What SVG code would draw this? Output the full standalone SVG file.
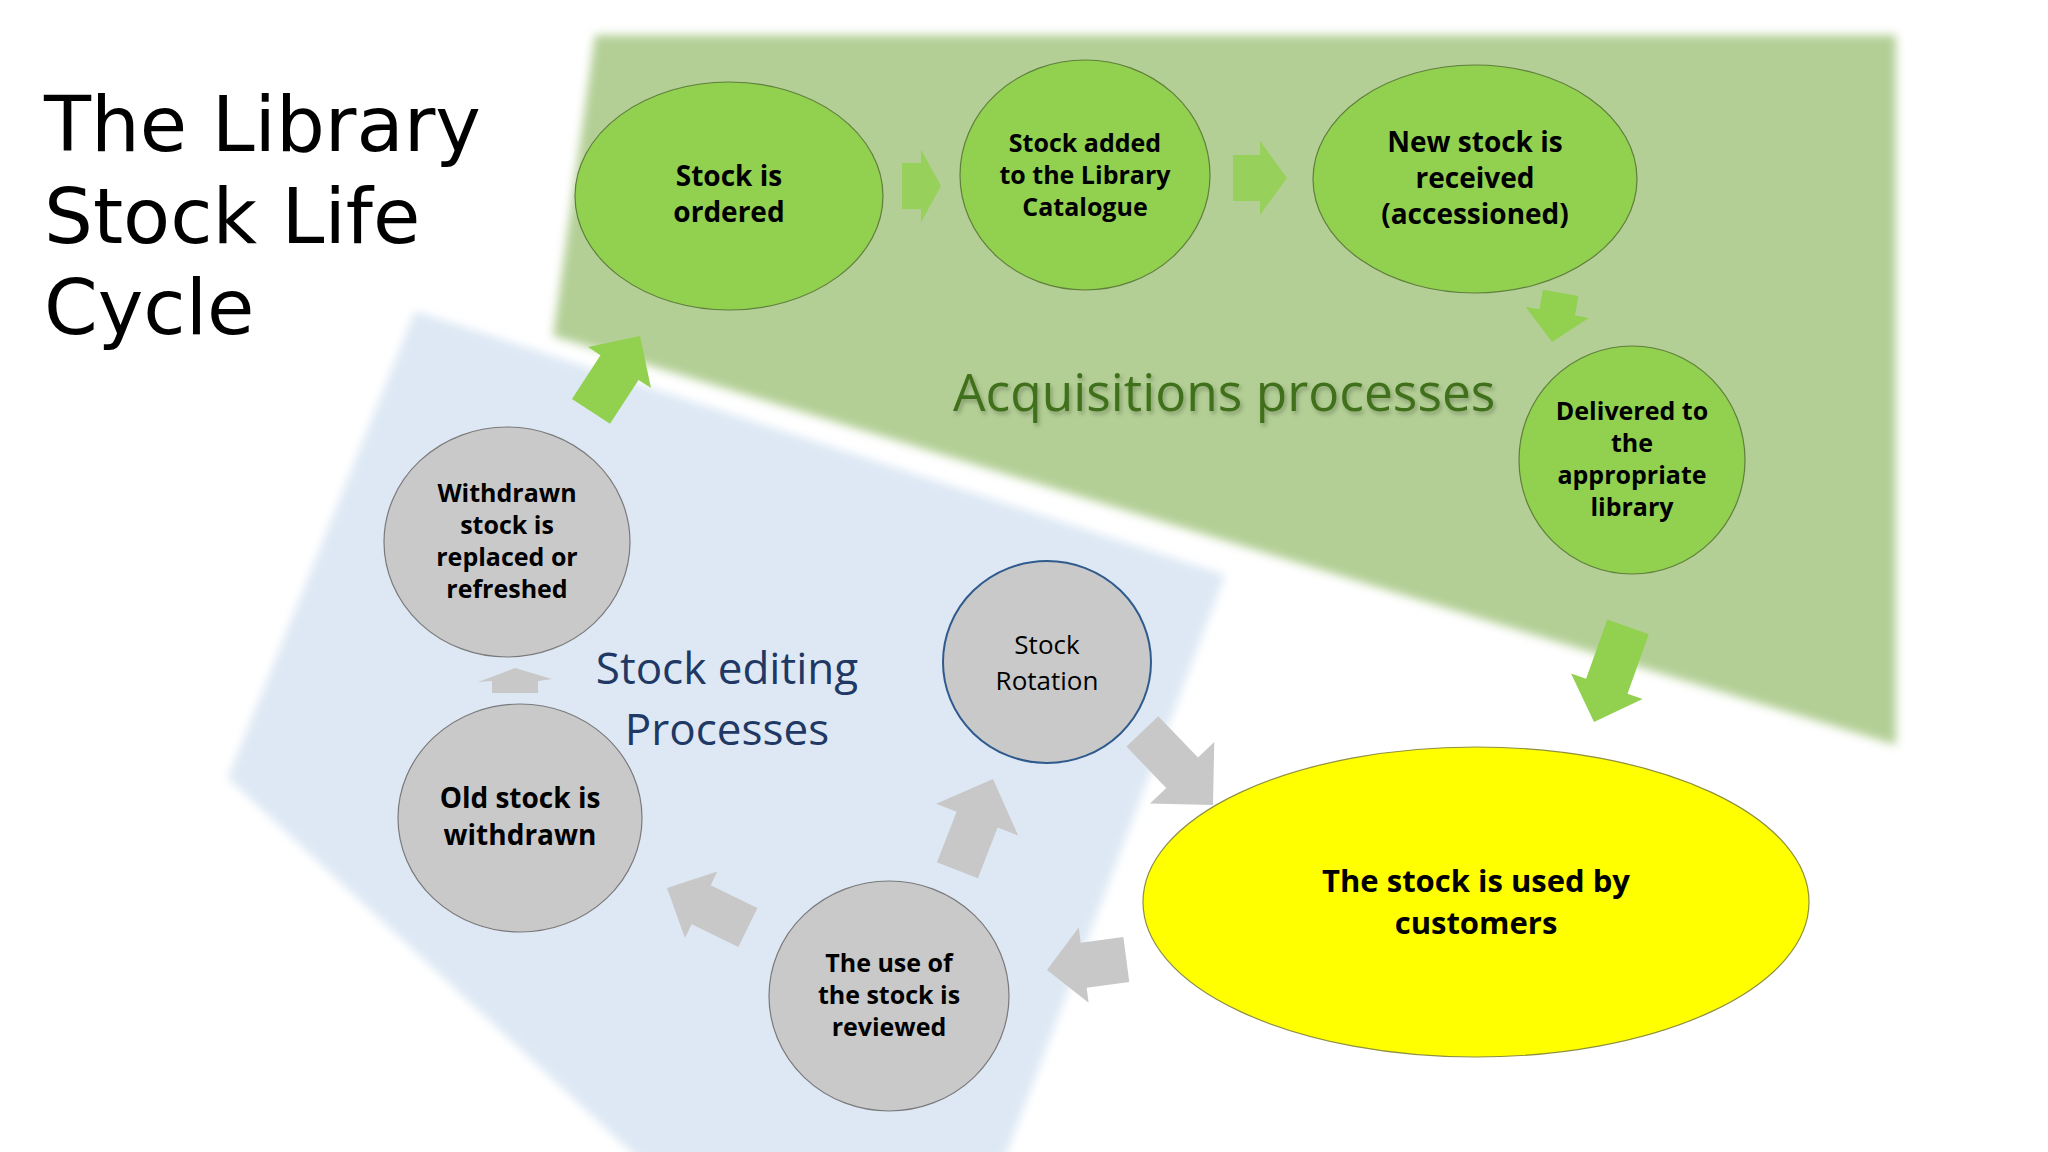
<svg xmlns="http://www.w3.org/2000/svg" width="2048" height="1152" viewBox="0 0 2048 1152">
<defs>
<filter id="soft" x="-10%" y="-10%" width="120%" height="120%"><feGaussianBlur stdDeviation="5"/></filter>
<filter id="tshadow" x="-5%" y="-20%" width="110%" height="150%"><feDropShadow dx="2" dy="3" stdDeviation="2" flood-color="#000" flood-opacity="0.25"/></filter>
<style>
.title{font-family:"DejaVu Sans","Open Sans",sans-serif;font-size:77px;fill:#000}
.gnode{fill:#92d050;stroke:#5f7f3c;stroke-width:1.2}
.grey{fill:#c9c9c9;stroke:#7a7a7a;stroke-width:1.2}
.rot{fill:#c9c9c9;stroke:#2f5a8e;stroke-width:2}
.yel{fill:#ffff00;stroke:#8f8f40;stroke-width:1.2}
.lbl{font-family:"Open Sans","Liberation Sans",sans-serif;font-weight:bold;fill:#000;text-anchor:middle}
.s25{font-size:25px}
.s28{font-size:28px}
.s31{font-size:31px}
.reg{font-family:"Open Sans","Liberation Sans",sans-serif;font-size:26px;fill:#000;text-anchor:middle}
.garrow{fill:#92d050}
.parrow{fill:#c8c8c8}
.acq{font-family:"Open Sans","Liberation Sans",sans-serif;font-size:51.5px;fill:#41701a}
.edit{font-family:"Open Sans","Liberation Sans",sans-serif;font-size:44px;fill:#1f3864;text-anchor:middle}
</style>
</defs>
<rect width="2048" height="1152" fill="#ffffff"/>
<g id="regions">
<polygon points="595,35 1896,35 1896,745 553,336" fill="#b3cf95" filter="url(#soft)"/>
<polygon points="415,311 1225,575 1004,1160 640,1160 228,778" fill="#dde8f4" filter="url(#soft)"/>
</g>
<g id="title">
<text class="title" x="44" y="151">The Library</text>
<text class="title" x="44" y="243">Stock Life</text>
<text class="title" x="44" y="334">Cycle</text>
</g>
<g id="region-labels">
<text class="acq" x="953" y="411" filter="url(#tshadow)">Acquisitions processes</text>
<text class="edit" x="727" y="684">Stock editing</text>
<text class="edit" x="727" y="745">Processes</text>
</g>
<g id="connectors">
<polygon class="garrow" opacity="0.85" transform="translate(941,186)" points="-39,-23 -20,-23 -20,-36.5 0,0 -20,36.5 -20,23 -39,23"/>
<polygon class="garrow" opacity="0.85" transform="translate(1287,178)" points="-54,-23 -27,-23 -27,-37 0,0 -27,37 -27,23 -54,23"/>
<polygon class="garrow" transform="translate(1552,342) rotate(100)" points="-50,-18 -30,-18 -30,-32 0,0 -30,32 -30,18 -50,18"/>
<polygon class="garrow" transform="translate(1594,722) rotate(109.7)" points="-101,-22 -38,-22 -38,-38 0,0 -38,38 -38,22 -101,22"/>
<polygon class="garrow" transform="translate(640,336) rotate(-57)" points="-90,-22.7 -37.6,-22.7 -37.6,-37.5 0,0 -37.6,37.5 -37.6,22.7 -90,22.7"/>
<polygon class="parrow" points="492,693 492,681 478,682 515,668 552,679 538,681 538,693"/>
<polygon class="parrow" transform="translate(667,888) rotate(206)" points="-90,-21.7 -38,-21.7 -38,-37 0,0 -38,37 -38,21.7 -90,21.7"/>
<polygon class="parrow" transform="translate(993,779) rotate(-68.7)" points="-98,-22 -43.6,-22 -43.6,-44 0,0 -43.6,44 -43.6,22 -98,22"/>
<polygon class="parrow" transform="translate(1213,805) rotate(46.2)" points="-102,-22 -44.6,-22 -44.6,-44.5 0,0 -44.6,44.5 -44.6,22 -102,22"/>
<polygon class="parrow" transform="translate(1047,970) rotate(172.5)" points="-80,-22.7 -37,-22.7 -37,-38 0,0 -37,38 -37,22.7 -80,22.7"/>
</g>
<g id="node-ordered">
<ellipse class="gnode" cx="729" cy="196" rx="154" ry="114"/>
<text class="lbl s28" x="729" y="186">Stock is</text>
<text class="lbl s28" x="729" y="222">ordered</text>
</g>
<g id="node-catalogue">
<ellipse class="gnode" cx="1085" cy="175" rx="125" ry="115"/>
<text class="lbl s25" x="1085" y="152">Stock added</text>
<text class="lbl s25" x="1085" y="184">to the Library</text>
<text class="lbl s25" x="1085" y="216">Catalogue</text>
</g>
<g id="node-received">
<ellipse class="gnode" cx="1475" cy="179" rx="162" ry="114"/>
<text class="lbl s28" x="1475" y="152">New stock is</text>
<text class="lbl s28" x="1475" y="188">received</text>
<text class="lbl s28" x="1475" y="224">(accessioned)</text>
</g>
<g id="node-delivered">
<ellipse class="gnode" cx="1632" cy="460" rx="113" ry="114"/>
<text class="lbl s25" x="1632" y="420">Delivered to</text>
<text class="lbl s25" x="1632" y="452">the</text>
<text class="lbl s25" x="1632" y="484">appropriate</text>
<text class="lbl s25" x="1632" y="516">library</text>
</g>
<g id="node-customers">
<ellipse class="yel" cx="1476" cy="902" rx="333" ry="155"/>
<text class="lbl s31" x="1476" y="892">The stock is used by</text>
<text class="lbl s31" x="1476" y="934">customers</text>
</g>
<g id="node-rotation">
<ellipse class="rot" cx="1047" cy="662" rx="104" ry="101"/>
<text class="reg" x="1047" y="654">Stock</text>
<text class="reg" x="1047" y="690">Rotation</text>
</g>
<g id="node-reviewed">
<ellipse class="grey" cx="889" cy="996" rx="120" ry="115"/>
<text class="lbl s25" x="889" y="972">The use of</text>
<text class="lbl s25" x="889" y="1004">the stock is</text>
<text class="lbl s25" x="889" y="1036">reviewed</text>
</g>
<g id="node-withdrawn">
<ellipse class="grey" cx="520" cy="818" rx="122" ry="114"/>
<text class="lbl s28" x="520" y="808">Old stock is</text>
<text class="lbl s28" x="520" y="845">withdrawn</text>
</g>
<g id="node-replaced">
<ellipse class="grey" cx="507" cy="542" rx="123" ry="115"/>
<text class="lbl s25" x="507" y="502">Withdrawn</text>
<text class="lbl s25" x="507" y="534">stock is</text>
<text class="lbl s25" x="507" y="566">replaced or</text>
<text class="lbl s25" x="507" y="598">refreshed</text>
</g>
</svg>
